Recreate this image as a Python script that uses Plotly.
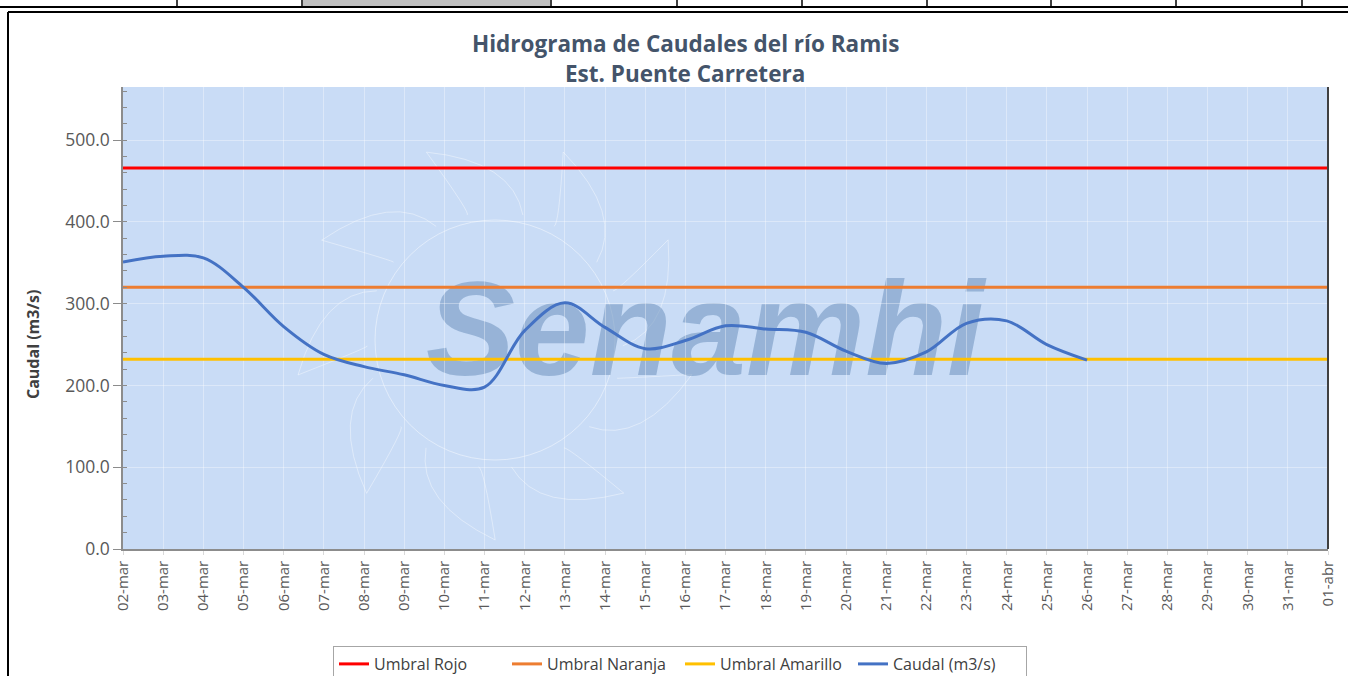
import plotly.graph_objects as go
import numpy as np

# ---------------- data ----------------
dates = ["02-mar", "03-mar", "04-mar", "05-mar", "06-mar", "07-mar", "08-mar", "09-mar",
         "10-mar", "11-mar", "12-mar", "13-mar", "14-mar", "15-mar", "16-mar", "17-mar",
         "18-mar", "19-mar", "20-mar", "21-mar", "22-mar", "23-mar", "24-mar", "25-mar",
         "26-mar", "27-mar", "28-mar", "29-mar", "30-mar", "31-mar", "01-abr"]
caudal_dates = dates[:25]
caudal = [351, 358, 356, 320, 272, 238, 223, 213, 200, 198, 267, 301, 271, 245, 255,
          273, 269, 265, 242, 227, 241, 276, 279, 250, 231]
umbral_rojo = 466
umbral_naranja = 320
umbral_amarillo = 232
y_ticks = [0, 100, 200, 300, 400, 500]

W, H = 1348, 676
L, R, T, B = 123, 20, 87, 127
PW, PH = W - L - R, H - T - B


def px(x):
    return (x - L) / PW


def py(y):
    return (H - B - y) / PH


fig = go.Figure()
fig.add_trace(go.Scatter(x=dates, y=[umbral_rojo] * len(dates), mode="lines",
                         name="Umbral Rojo", line=dict(color="#FF0000", width=3)))
fig.add_trace(go.Scatter(x=dates, y=[umbral_naranja] * len(dates), mode="lines",
                         name="Umbral Naranja", line=dict(color="#ED7D31", width=3)))
fig.add_trace(go.Scatter(x=dates, y=[umbral_amarillo] * len(dates), mode="lines",
                         name="Umbral Amarillo", line=dict(color="#FFC000", width=3)))
fig.add_trace(go.Scatter(x=caudal_dates, y=caudal, mode="lines", name="Caudal (m3/s)",
                         line=dict(color="#4472C4", width=3, shape="spline", smoothing=1)))

shapes = []
# top table fragment
shapes.append(dict(type="rect", xref="paper", yref="paper", x0=px(303), x1=px(550),
                   y0=py(6), y1=py(0), fillcolor="rgba(140,140,140,0.55)", line=dict(width=0)))
shapes.append(dict(type="line", xref="paper", yref="paper", x0=px(0), x1=px(W),
                   y0=py(7), y1=py(7), line=dict(color="black", width=2)))
for vx in [177, 302, 551, 677, 802, 927, 1051, 1176, 1302]:
    shapes.append(dict(type="line", xref="paper", yref="paper", x0=px(vx), x1=px(vx),
                       y0=py(0), y1=py(7), line=dict(color="black", width=1.5)))
# chart frame
shapes.append(dict(type="line", xref="paper", yref="paper", x0=px(8), x1=px(W),
                   y0=py(12), y1=py(12), line=dict(color="black", width=2)))
shapes.append(dict(type="line", xref="paper", yref="paper", x0=px(8), x1=px(8),
                   y0=py(12), y1=py(H), line=dict(color="black", width=2)))
# right plot border
shapes.append(dict(type="line", xref="paper", yref="paper", x0=1, x1=1, y0=0, y1=1,
                   line=dict(color="#404040", width=2)))

# watermark sun outline (decorative)
cx, cy, rr = 495, 340, 120
shapes.append(dict(type="circle", xref="paper", yref="paper", layer="below",
                   x0=px(cx - rr), x1=px(cx + rr), y0=py(cy + rr), y1=py(cy - rr),
                   line=dict(color="rgba(255,255,255,0.45)", width=1)))
for k in range(9):
    a = np.deg2rad(90 + k * 40)
    a1, a2 = a - 0.22, a + 0.22
    r0, r1 = rr + 8, rr + 80
    x0, y0 = cx + r0 * np.cos(a1), cy - r0 * np.sin(a1)
    x2, y2 = cx + r0 * np.cos(a2), cy - r0 * np.sin(a2)
    xt, yt = cx + r1 * np.cos(a + 0.35), cy - r1 * np.sin(a + 0.35)
    xc, yc = cx + (r1 - 20) * np.cos(a - 0.1), cy - (r1 - 20) * np.sin(a - 0.1)
    path = (f"M {px(x0)},{py(y0)} Q {px(xc)},{py(yc)} {px(xt)},{py(yt)} "
            f"Q {px(x2 + 5)},{py(y2)} {px(x2)},{py(y2)}")
    shapes.append(dict(type="path", xref="paper", yref="paper", layer="below", path=path,
                       line=dict(color="rgba(255,255,255,0.4)", width=1)))

# watermark text
shapes.append(dict(type="rect", xref="paper", yref="paper", layer="below",
                   x0=px(400), x1=px(1010), y0=py(380), y1=py(250),
                   line=dict(width=0), fillcolor="rgba(0,0,0,0)",
                   label=dict(text="Senamhi", textposition="middle center",
                              font=dict(family="Liberation Sans", size=134,
                                        color="rgba(110,145,190,0.55)",
                                        weight="bold", style="italic"))))

annotations = [
    dict(text="Hidrograma de Caudales del río Ramis", xref="paper", yref="paper",
         x=px(685), y=py(44), showarrow=False, xanchor="center", yanchor="middle",
         font=dict(family="Open Sans", size=22.5, color="#44546A", weight="bold")),
    dict(text="Est. Puente Carretera", xref="paper", yref="paper",
         x=px(685), y=py(73), showarrow=False, xanchor="center", yanchor="middle",
         font=dict(family="Open Sans", size=22.5, color="#44546A", weight="bold")),
    dict(text="Caudal (m3/s)", xref="paper", yref="paper", x=px(33), y=py(345),
         showarrow=False, textangle=-90, xanchor="center", yanchor="middle",
         font=dict(family="Open Sans", size=16, color="#404040", weight="bold")),
]

fig.update_layout(
    width=W, height=H,
    margin=dict(l=L, r=R, t=T, b=B, autoexpand=False),
    paper_bgcolor="white",
    plot_bgcolor="#C9DCF6",
    shapes=shapes,
    annotations=annotations,
    showlegend=True,
    legend=dict(orientation="h", x=px(680), xanchor="center", y=py(646), yanchor="top",
                bgcolor="white", bordercolor="#A6A6A6", borderwidth=1,
                font=dict(family="Open Sans", size=16, color="#404040"),
                traceorder="normal", entrywidth=128, entrywidthmode="pixels"),
    xaxis=dict(type="category", categoryorder="array", categoryarray=dates,
               range=[0, len(dates) - 1], tickangle=-90,
               tickfont=dict(family="Open Sans", size=15, color="#595959"),
               showgrid=True, gridcolor="rgba(255,255,255,0.35)", gridwidth=1,
               showline=True, linecolor="#8C8C8C", linewidth=1.5,
               ticks="outside", ticklen=4, tickcolor="#D9D9D9", zeroline=False),
    yaxis=dict(range=[0, 565], tickvals=y_ticks, tickformat=".1f",
               tickfont=dict(family="Open Sans", size=17.5, color="#595959"),
               showgrid=True, gridcolor="rgba(255,255,255,0.35)", gridwidth=1,
               showline=True, linecolor="#8C8C8C", linewidth=1.5,
               ticks="outside", ticklen=8, tickcolor="#8C8C8C", zeroline=False,
               minor=dict(dtick=20, ticks="inside", ticklen=4, tickcolor="#8C8C8C",
                          showgrid=False)),
)

fig.write_html("out.html", config={"displayModeBar": False},
               post_script="document.body.style.margin='0';")
